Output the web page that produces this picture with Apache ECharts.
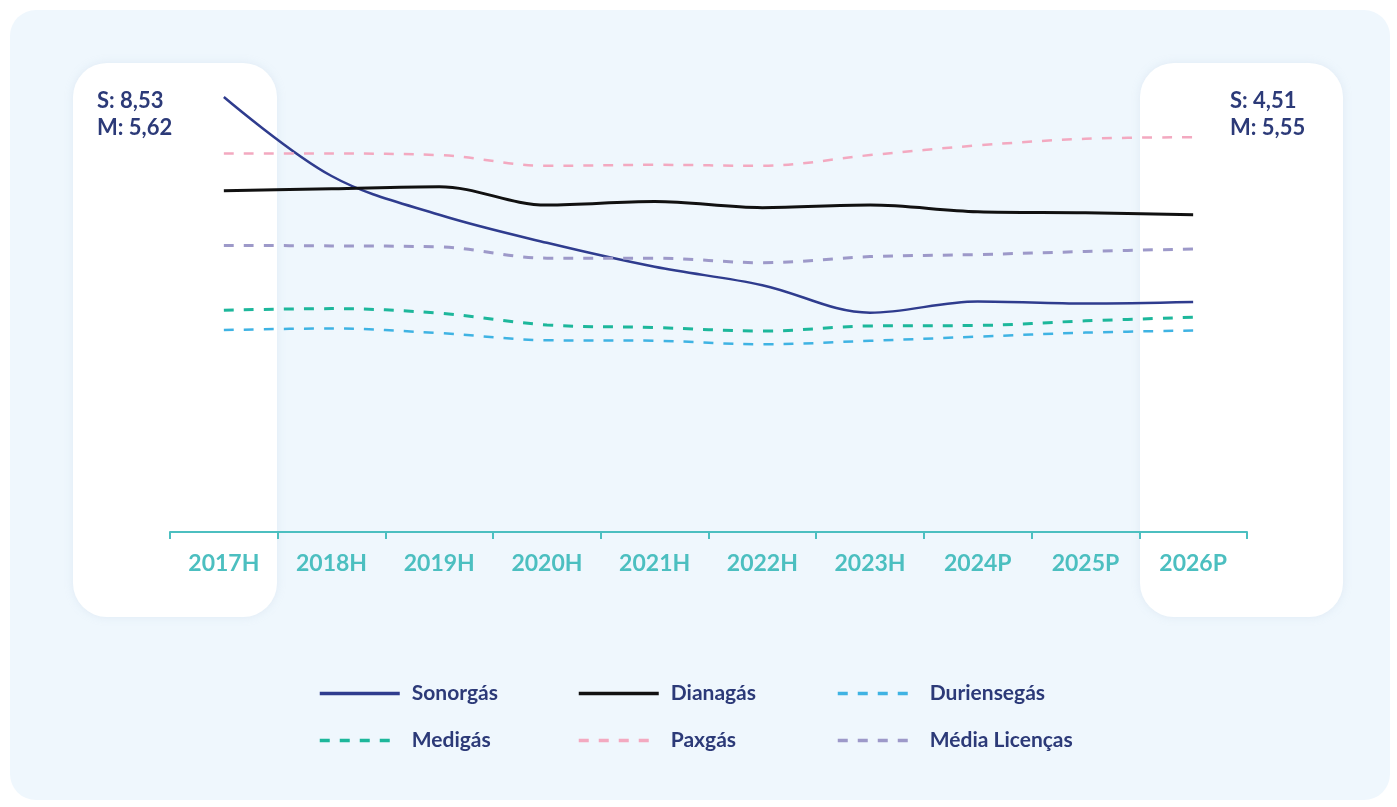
<!DOCTYPE html>
<html>
<head>
<meta charset="utf-8">
<script src="https://cdn.jsdelivr.net/npm/echarts@6/dist/echarts.min.js"></script>
<style>
html,body{margin:0;padding:0;background:#fff;}
#c{width:1397px;height:807px;}
</style>
</head>
<body>
<div id="c"></div>
<script>
const categories = ['2017H','2018H','2019H','2020H','2021H','2022H','2023H','2024P','2025P','2026P'];
const sonorgas    = [8.53, 6.98, 6.22, 5.67, 5.20, 4.84, 4.30, 4.52, 4.48, 4.51];
const dianagas    = [6.69, 6.73, 6.77, 6.41, 6.48, 6.36, 6.41, 6.28, 6.26, 6.22];
const duriensegas = [3.96, 3.99, 3.90, 3.76, 3.75, 3.68, 3.75, 3.83, 3.91, 3.95];
const medigas     = [4.35, 4.38, 4.29, 4.06, 4.01, 3.94, 4.04, 4.05, 4.14, 4.21];
const paxgas      = [7.42, 7.42, 7.39, 7.18, 7.20, 7.18, 7.39, 7.58, 7.71, 7.74];
const mediaLic    = [5.62, 5.61, 5.59, 5.37, 5.37, 5.28, 5.40, 5.44, 5.50, 5.55];

const fmt = v => v.toFixed(2).replace('.', ',');
const FONT = 'Lato';
const NAVY = '#2c3a78';
const TEAL = '#4cbfc0';

const chart = echarts.init(document.getElementById('c'), null, {renderer:'canvas'});

function line(name, data, color, dashed, width) {
  return {
    name, type:'line', data, smooth:0.35, symbol:'none', showSymbol:false,
    lineStyle:{color, width, type: dashed ? [10,10] : 'solid'},
    itemStyle:{color},
    z: 5
  };
}

const legendBase = {
  orient:'vertical', itemWidth:80, itemHeight:14, itemGap:26, top:683, padding:0,
  itemStyle:{opacity:0, borderWidth:0},
  lineStyle:{width:3.5},
  textStyle:{color:NAVY, fontFamily:FONT, fontWeight:'bold', fontSize:21, padding:[0,0,0,7]},
  selectedMode:false
};

chart.setOption({
  backgroundColor:'#ffffff',
  animation:false,
  graphic:[
    {type:'rect', z:-30, shape:{x:10, y:10, width:1380, height:790, r:26}, style:{fill:'#eff7fd'}},
    {type:'rect', z:-20, shape:{x:73, y:63, width:204, height:554, r:34}, style:{fill:'#ffffff', shadowBlur:8, shadowColor:'rgba(180,200,220,0.25)'}},
    {type:'rect', z:-20, shape:{x:1140, y:63, width:203, height:554, r:34}, style:{fill:'#ffffff', shadowBlur:8, shadowColor:'rgba(180,200,220,0.25)'}},
    {type:'text', z:10, left:97, top:87, style:{text:'S: ' + fmt(sonorgas[0]) + '\nM: ' + fmt(mediaLic[0]), fill:NAVY, font:'bold 22px ' + FONT, lineHeight:27}},
    {type:'text', z:10, left:1230, top:87, style:{text:'S: ' + fmt(sonorgas[sonorgas.length-1]) + '\nM: ' + fmt(mediaLic[mediaLic.length-1]), fill:NAVY, font:'bold 22px ' + FONT, lineHeight:27}}
  ],
  grid:{left:170, right:150, top:73, bottom:275, containLabel:false},
  xAxis:{
    type:'category', data:categories, boundaryGap:true,
    axisLine:{lineStyle:{color:TEAL, width:2}},
    axisTick:{show:true, length:7, lineStyle:{color:TEAL, width:2}},
    axisLabel:{color:TEAL, fontFamily:FONT, fontWeight:'bold', fontSize:23, margin:20}
  },
  yAxis:{type:'value', min:0, max:9, show:false, splitLine:{show:false}},
  legend:[
    Object.assign({}, legendBase, {left:318, data:['Sonorgás','Medigás']}),
    Object.assign({}, legendBase, {left:577, data:['Dianagás','Paxgás']}),
    Object.assign({}, legendBase, {left:836, data:['Duriensegás','Média Licenças']})
  ],
  series:[
    line('Sonorgás', sonorgas, '#2f3c8e', false, 2.5),
    line('Dianagás', dianagas, '#111111', false, 3),
    line('Duriensegás', duriensegas, '#3fb3e3', true, 2.5),
    line('Medigás', medigas, '#1db79b', true, 3),
    line('Paxgás', paxgas, '#f3a9c0', true, 2.5),
    line('Média Licenças', mediaLic, '#9d99c9', true, 3)
  ]
});
</script>
</body>
</html>
